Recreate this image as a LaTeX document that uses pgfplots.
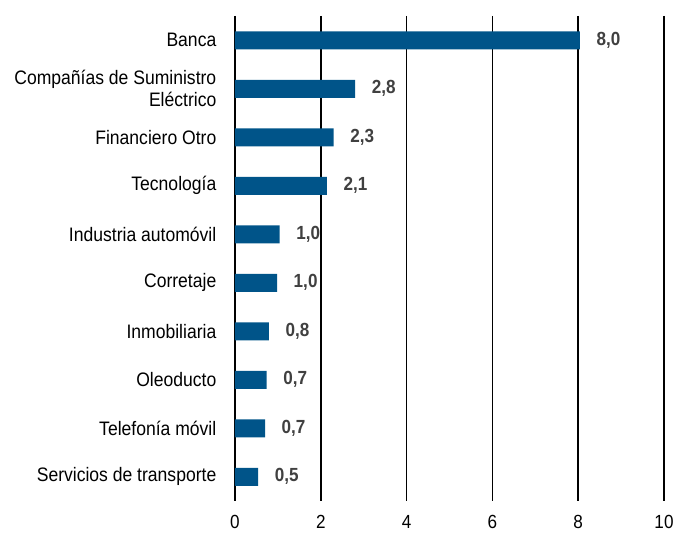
\documentclass[border=0pt]{standalone}
\usepackage{fontspec}
\setmainfont{Liberation Sans}[FakeStretch=0.9]
\usepackage{pgfplots}
\pgfplotsset{compat=1.18}
\definecolor{barblue}{RGB}{0,84,137}
\definecolor{lblgray}{RGB}{64,64,64}
\begin{document}
\fontsize{19.5}{22}\selectfont
\begin{tikzpicture}
\useasboundingbox (-235pt,-37pt) rectangle (449pt,501pt);
\begin{axis}[
  at={(0pt,0pt)}, anchor=south west,
  scale only axis, width=429pt, height=485pt,
  xbar, bar width=18pt,
  xmin=0, xmax=10,
  ymin=-0.5, ymax=9.5, y dir=reverse,
  xtick={0,2,4,6,8,10},
  ytick={0,...,9},
  yticklabels={Banca,{Compañías de Suministro\\Eléctrico},Financiero Otro,Tecnología,Industria automóvil,Corretaje,Inmobiliaria,Oleoducto,Telefonía móvil,Servicios de transporte},
  yticklabel style={align=right, font=\fontsize{19.5}{22}\selectfont, xshift=-12pt},
  xticklabel style={font=\fontsize{19}{22}\selectfont, yshift=-8pt},
  /pgf/number format/assume math mode=true,
  axis line style={draw=none},
  major tick length=0pt,
  xmajorgrids, grid style={black, line width=1.6pt},
  nodes near coords={\pgfmathprintnumber[fixed,fixed zerofill,precision=1,use comma]{\pgfplotspointmeta}},
  nodes near coords style={font=\bfseries\fontsize{19}{22}\selectfont, text=lblgray, anchor=west, xshift=10pt},
  clip=false,
]
\addplot[fill=barblue, draw=none] coordinates {
(8.04,0) (2.80,1) (2.30,2) (2.14,3) (1.04,4) (0.98,5) (0.79,6) (0.74,7) (0.70,8) (0.54,9)};
\end{axis}
\end{tikzpicture}
\end{document}
